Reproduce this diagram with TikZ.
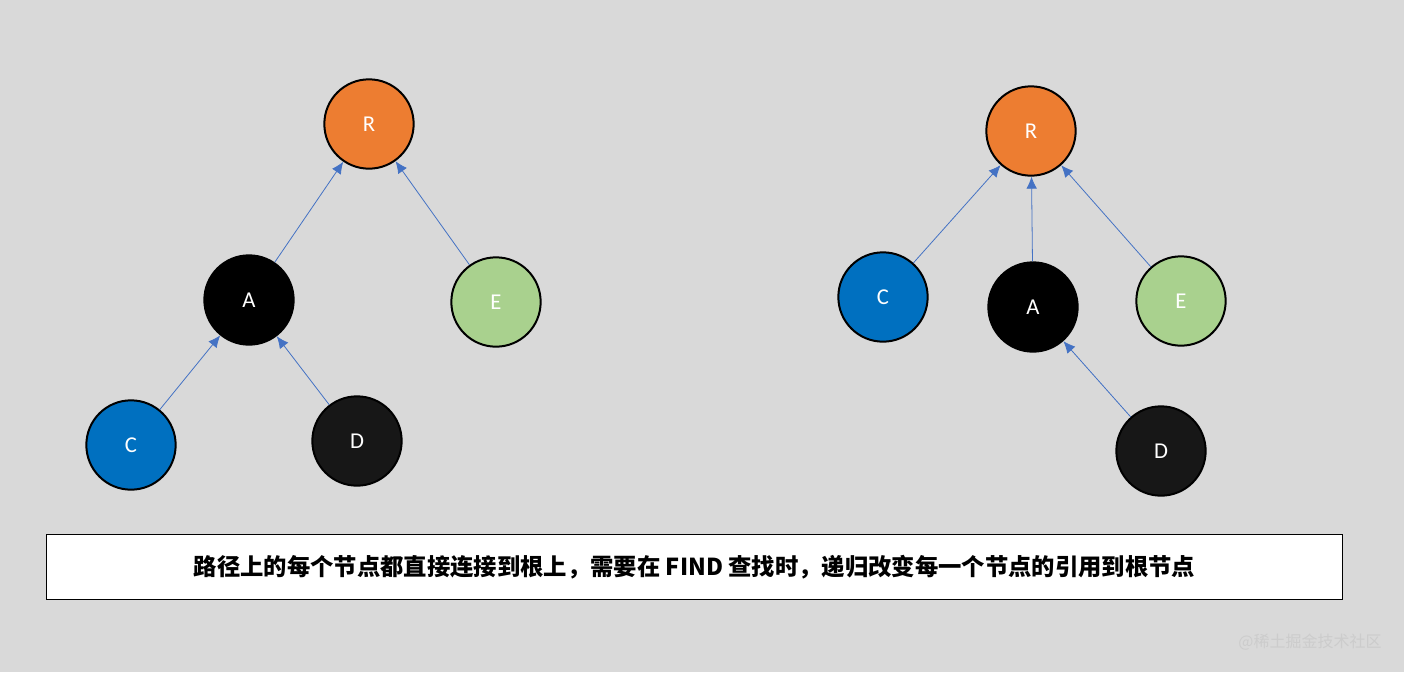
\documentclass[tikz,border=0pt]{standalone}
\usepackage{fontspec}
\setmainfont{Carlito}
\newfontfamily\cjk{Noto Sans CJK SC}
\usetikzlibrary{arrows.meta}
\definecolor{bg}{HTML}{D9D9D9}
\definecolor{orng}{HTML}{ED7D31}
\definecolor{grn}{HTML}{A9D18E}
\definecolor{blu}{HTML}{0070C0}
\definecolor{dk}{HTML}{171717}
\definecolor{arr}{HTML}{4472C4}
\begin{document}
\begin{tikzpicture}[x=0.75pt,y=-0.75pt,
  nd/.style={circle,draw=black,line width=1.5pt,minimum size=67pt,inner sep=0pt,text=white,font=\fontsize{17}{17}\selectfont},
  link/.style={draw=arr,line width=0.6pt,-{Latex[length=9pt,width=8pt]}}]
\fill[bg] (0,0) rectangle (1404,672);
\useasboundingbox (0,0) rectangle (1404,672);
\node[nd,fill=orng] (R1) at (369,124) {R};
\node[nd,fill=black] (A1) at (249,300) {A};
\node[nd,fill=grn] (E1) at (496,302) {E};
\node[nd,fill=blu] (C1) at (131,445) {C};
\node[nd,fill=dk] (D1) at (357,441) {D};
\draw[link] (A1) -- (R1);
\draw[link] (E1) -- (R1);
\draw[link] (C1) -- (A1);
\draw[link] (D1) -- (A1);
\node[nd,fill=orng] (R2) at (1031,131) {R};
\node[nd,fill=blu] (C2) at (883,297) {C};
\node[nd,fill=black] (A2) at (1033,307) {A};
\node[nd,fill=grn] (E2) at (1181,301) {E};
\node[nd,fill=dk] (D2) at (1161,451) {D};
\draw[link] (C2) -- (R2);
\draw[link] (A2) -- (R2);
\draw[link] (E2) -- (R2);
\draw[link] (D2) -- (A2);
\node[draw=black,fill=white,line width=1pt,minimum width=972pt,minimum height=49pt,inner sep=0pt,font=\cjk\bfseries\fontsize{17.5}{18}\selectfont] (T) at (694.5,567) {路径上的每个节点都直接连接到根上，需要在 FIND 查找时，递归改变每一个节点的引用到根节点};
\node[text=white!60!gray,font=\cjk\fontsize{12}{12}\selectfont] (W) at (1310,642) {@稀土掘金技术社区};
\end{tikzpicture}
\end{document}
